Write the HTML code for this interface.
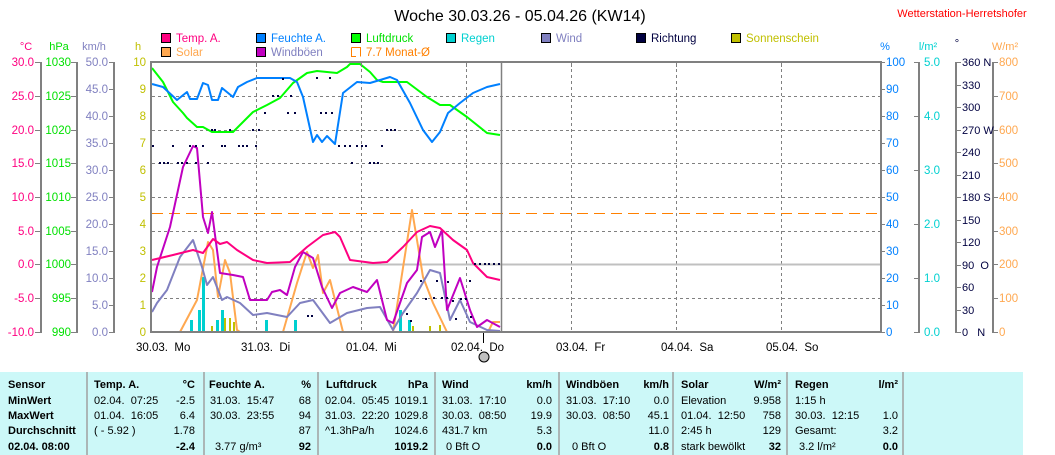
<!DOCTYPE html>
<html><head><meta charset="utf-8"><style>
html,body{margin:0;padding:0;background:#fff;}
svg{display:block;font-family:"Liberation Sans",sans-serif;}
</style></head><body>
<svg width="1055" height="455" viewBox="0 0 1055 455" xmlns="http://www.w3.org/2000/svg">
<rect width="1055" height="455" fill="#fff"/>
<text x="520" y="21" font-size="16" text-anchor="middle" fill="#000">Woche 30.03.26 - 05.04.26 (KW14)</text>
<text x="962" y="17" font-size="11" text-anchor="middle" fill="#ff0000">Wetterstation-Herretshofer</text>

<!-- legend -->
<g font-size="11.5" stroke-width="1">
<rect x="161.5" y="33.5" width="9" height="9" fill="#ff0080" stroke="#000"/><text x="176" y="42" fill="#ff0080">Temp. A.</text>
<rect x="256.5" y="33.5" width="9" height="9" fill="#0080ff" stroke="#000"/><text x="271" y="42" fill="#0080ff">Feuchte A.</text>
<rect x="351.5" y="33.5" width="9" height="9" fill="#00ff00" stroke="#000"/><text x="366" y="42" fill="#00e000">Luftdruck</text>
<rect x="446.5" y="33.5" width="9" height="9" fill="#00d0d0" stroke="#000"/><text x="461" y="42" fill="#00d0d0">Regen</text>
<rect x="541.5" y="33.5" width="9" height="9" fill="#8080c0" stroke="#000"/><text x="556" y="42" fill="#8080c0">Wind</text>
<rect x="636.5" y="33.5" width="9" height="9" fill="#000040" stroke="#000"/><text x="651" y="42" fill="#000040">Richtung</text>
<rect x="731.5" y="33.5" width="9" height="9" fill="#c0c000" stroke="#000"/><text x="746" y="42" fill="#c0c000">Sonnenschein</text>
<rect x="161.5" y="47.5" width="9" height="9" fill="#ffa850" stroke="#000"/><text x="176" y="56" fill="#ffa850">Solar</text>
<rect x="256.5" y="47.5" width="9" height="9" fill="#c000c0" stroke="#000"/><text x="271" y="56" fill="#8080c0">Windböen</text>
<path d="M351.5 47.5 H360.5 V56.5 M351.5 47.5 V56.5 H356" fill="none" stroke="#ff8000"/><text x="366" y="56" fill="#ff8000">7.7 Monat-Ø</text>
</g>

<!-- units -->
<g font-size="11">
<text x="26" y="50" text-anchor="middle" fill="#ff0080">°C</text>
<text x="59" y="50" text-anchor="middle" fill="#00e000">hPa</text>
<text x="94" y="50" text-anchor="middle" fill="#8080c0">km/h</text>
<text x="138" y="50" text-anchor="middle" fill="#c0c000">h</text>
<text x="885" y="50" text-anchor="middle" fill="#0080ff">%</text>
<text x="928" y="50" text-anchor="middle" fill="#00d0d0">l/m²</text>
<text x="957" y="47" text-anchor="middle" fill="#000040">°</text>
<text x="1005" y="50" text-anchor="middle" fill="#ffa850">W/m²</text>
</g>

<!-- axes -->
<g stroke="#808080" stroke-width="2" fill="none">
<line x1="41" y1="62" x2="41" y2="333"/><line x1="77" y1="62" x2="77" y2="333"/><line x1="114" y1="62" x2="114" y2="333"/>
<line x1="919" y1="62" x2="919" y2="333"/><line x1="956" y1="62" x2="956" y2="333"/><line x1="993" y1="62" x2="993" y2="333"/>
</g>
<g stroke="#808080" stroke-width="1">
<path d="M35 62.5h6M35 96.5h6M35 130.5h6M35 163.5h6M35 197.5h6M35 231.5h6M35 264.5h6M35 298.5h6M35 332.5h6"/>
<path d="M71 62.5h6M71 96.5h6M71 130.5h6M71 163.5h6M71 197.5h6M71 231.5h6M71 264.5h6M71 298.5h6M71 332.5h6"/>
<path d="M109 62.5h5M109 89.5h5M109 116.5h5M109 143.5h5M109 170.5h5M109 197.5h5M109 224.5h5M109 251.5h5M109 278.5h5M109 305.5h5M109 332.5h5"/>
<path d="M881 62.5h4M881 89.5h4M881 116.5h4M881 143.5h4M881 170.5h4M881 197.5h4M881 224.5h4M881 251.5h4M881 278.5h4M881 305.5h4M881 332.5h4"/>
<path d="M914 62.5h5M914 116.5h5M914 170.5h5M914 224.5h5M914 278.5h5M914 332.5h5"/>
<path d="M956 62.5h5M956 85.5h5M956 107.5h5M956 130.5h5M956 152.5h5M956 175.5h5M956 197.5h5M956 220.5h5M956 242.5h5M956 265.5h5M956 287.5h5M956 310.5h5M956 332.5h5"/>
<path d="M993 62.5h5M993 96.5h5M993 130.5h5M993 163.5h5M993 197.5h5M993 231.5h5M993 264.5h5M993 298.5h5M993 332.5h5"/>
</g>
<g font-size="11.5" text-anchor="end" fill="#ff0080">
<text x="34" y="66">30.0</text><text x="34" y="100">25.0</text><text x="34" y="134">20.0</text><text x="34" y="167">15.0</text><text x="34" y="201">10.0</text><text x="34" y="235">5.0</text><text x="34" y="268">0.0</text><text x="34" y="302">-5.0</text><text x="34" y="336">-10.0</text>
</g>
<g font-size="11.5" text-anchor="end" fill="#00e000">
<text x="71" y="66">1030</text><text x="71" y="100">1025</text><text x="71" y="134">1020</text><text x="71" y="167">1015</text><text x="71" y="201">1010</text><text x="71" y="235">1005</text><text x="71" y="268">1000</text><text x="71" y="302">995</text><text x="71" y="336">990</text>
</g>
<g font-size="11.5" text-anchor="end" fill="#8080c0">
<text x="108" y="66">50.0</text><text x="108" y="93">45.0</text><text x="108" y="120">40.0</text><text x="108" y="147">35.0</text><text x="108" y="174">30.0</text><text x="108" y="201">25.0</text><text x="108" y="228">20.0</text><text x="108" y="255">15.0</text><text x="108" y="282">10.0</text><text x="108" y="309">5.0</text><text x="108" y="336">0.0</text>
</g>
<g font-size="11.5" text-anchor="end" fill="#c0c000">
<text x="146" y="66">10</text><text x="146" y="93">9</text><text x="146" y="120">8</text><text x="146" y="147">7</text><text x="146" y="174">6</text><text x="146" y="201">5</text><text x="146" y="228">4</text><text x="146" y="255">3</text><text x="146" y="282">2</text><text x="146" y="309">1</text><text x="146" y="336">0</text>
</g>
<g font-size="11.5" fill="#0080ff">
<text x="886" y="66">100</text><text x="886" y="93">90</text><text x="886" y="120">80</text><text x="886" y="147">70</text><text x="886" y="174">60</text><text x="886" y="201">50</text><text x="886" y="228">40</text><text x="886" y="255">30</text><text x="886" y="282">20</text><text x="886" y="309">10</text><text x="886" y="336">0</text>
</g>
<g font-size="11.5" fill="#00d0d0">
<text x="924" y="66">5.0</text><text x="924" y="120">4.0</text><text x="924" y="174">3.0</text><text x="924" y="228">2.0</text><text x="924" y="282">1.0</text><text x="924" y="336">0.0</text>
</g>
<g font-size="11" fill="#000040">
<text x="962" y="66">360 N</text><text x="962" y="89">330</text><text x="962" y="111">300</text><text x="962" y="134">270 W</text><text x="962" y="156">240</text><text x="962" y="179">210</text><text x="962" y="201">180 S</text><text x="962" y="224">150</text><text x="962" y="246">120</text><text x="962" y="269">90&#160;&#160;O</text><text x="962" y="291">60</text><text x="962" y="314">30</text><text x="962" y="336">0&#160;&#160;&#160;N</text>
</g>
<g font-size="11.5" fill="#ffa850">
<text x="999" y="66">800</text><text x="999" y="100">700</text><text x="999" y="134">600</text><text x="999" y="167">500</text><text x="999" y="201">400</text><text x="999" y="235">300</text><text x="999" y="268">200</text><text x="999" y="302">100</text><text x="999" y="336">0</text>
</g>

<!-- grid -->
<g stroke="#808080" stroke-width="1" stroke-dasharray="3,3">
<path d="M152 96.5H880M152 130.5H880M152 163.5H880M152 197.5H880M152 231.5H880M152 298.5H880"/>
<path d="M256.5 63V332M361.5 63V332M466.5 63V332M571.5 63V332M676.5 63V332M781.5 63V332"/>
</g>
<line x1="152" y1="264.5" x2="880" y2="264.5" stroke="#c0c0c0" stroke-width="2"/>
<line x1="152" y1="213.5" x2="880" y2="213.5" stroke="#ff8000" stroke-width="1" stroke-dasharray="11,6"/>
<line x1="501.5" y1="63" x2="501.5" y2="332" stroke="#808080" stroke-width="1.5"/>

<!-- bars -->
<g fill="#00d0d0">
<rect x="190" y="320" width="3" height="12"/><rect x="198" y="310" width="3" height="22"/><rect x="202" y="277" width="3" height="55"/><rect x="216" y="320" width="3" height="12"/><rect x="221" y="310" width="3" height="22"/><rect x="265" y="320" width="3" height="12"/><rect x="294" y="320" width="3" height="12"/><rect x="399" y="310" width="3" height="22"/><rect x="408" y="320" width="3" height="12"/>
</g>
<g fill="#c0c000">
<rect x="211" y="326" width="2" height="6"/><rect x="224" y="318" width="2" height="14"/><rect x="229" y="318" width="2" height="14"/><rect x="233" y="322" width="2" height="10"/><rect x="412" y="326" width="2" height="6"/><rect x="429" y="326" width="2" height="6"/><rect x="439" y="325" width="2" height="7"/>
</g>

<!-- series -->
<g fill="none" stroke-width="2" stroke-linejoin="round">
<polyline stroke="#ffa850" points="152,332 180,332 197,300 208,242 213,250 218,297 225,260 230,273 237,330 240,332 283,332 297,283 307,252 313,268 318,255 323,293 330,280 340,320 343,332 393,332 400,287 412,210 417,240 423,277 433,303 447,332 488,332 493,322 500,322"/>
<polyline stroke="#8080c0" points="152,312 157,303 167,290 180,257 193,240 202,267 207,285 213,277 222,300 227,297 240,303 253,315 267,313 287,317 300,303 313,300 330,323 347,313 367,308 380,307 393,330 403,313 417,293 430,270 440,273 450,320 460,300 470,322 487,330 500,331"/>
<polyline stroke="#c000c0" points="152,292 157,267 170,227 183,167 193,146 197,148 203,217 208,233 212,212 220,273 233,275 243,277 250,300 267,300 272,292 280,290 287,295 295,267 303,252 313,258 322,287 332,308 340,293 353,287 367,292 377,280 387,320 393,323 407,283 417,270 422,237 430,232 435,247 442,230 447,310 460,278 470,310 477,327 487,320 500,327"/>
<polyline stroke="#ff0080" points="152,260 173,255 193,250 203,253 213,239 220,244 227,242 237,250 253,260 267,263 290,262 307,247 323,235 335,232 340,237 350,260 373,263 387,262 403,247 417,232 430,226 440,228 453,240 467,250 473,263 487,277 500,280"/>
<polyline stroke="#00ff00" points="152,68 163,82 173,102 183,113 187,118 197,127 203,127 212,132 233,132 240,125 253,112 267,105 280,98 293,83 307,73 317,71 337,73 347,67 350,64 360,64 370,72 377,80 383,82 407,82 427,97 440,105 450,105 467,117 487,133 500,135"/>
<polyline stroke="#0080ff" points="152,84 163,87 177,100 187,92 190,99 197,99 203,83 208,85 212,100 218,100 222,88 233,97 238,87 247,82 257,78 290,78 297,82 303,97 313,142 317,135 322,142 327,136 335,144 343,93 357,82 370,83 380,80 390,77 397,80 410,103 423,130 432,142 440,132 448,113 460,103 473,93 487,87 500,84"/>
</g>
<!-- direction dots -->
<g fill="#000040">
<path d="M152 145h2v2h-2zM172 145h2v2h-2zM189 145h2v2h-2zM195 145h2v2h-2zM202 145h2v2h-2zM221 145h2v2h-2zM224 145h2v2h-2zM238 145h2v2h-2zM242 145h2v2h-2zM246 145h2v2h-2zM255 145h2v2h-2z"/>
<path d="M159 162h2v2h-2zM163 162h2v2h-2zM167 162h2v2h-2zM177 162h2v2h-2zM181 162h2v2h-2zM186 162h2v2h-2zM195 162h2v2h-2zM207 162h2v2h-2zM351 162h2v2h-2zM369 162h2v2h-2zM373 162h2v2h-2zM377 162h2v2h-2z"/>
<path d="M211 129h2v2h-2zM214 129h2v2h-2zM229 129h2v2h-2zM252 129h2v2h-2zM258 129h2v2h-2zM386 129h2v2h-2zM390 129h2v2h-2zM394 129h2v2h-2z"/>
<path d="M264 112h2v2h-2zM287 112h2v2h-2zM294 112h2v2h-2zM320 112h2v2h-2zM325 112h2v2h-2zM331 112h2v2h-2z"/>
<path d="M272 95h2v2h-2zM277 95h2v2h-2zM290 95h2v2h-2zM338 145h2v2h-2zM344 145h2v2h-2zM349 145h2v2h-2zM356 145h2v2h-2zM361 145h2v2h-2zM365 145h2v2h-2zM381 145h2v2h-2z"/>
<path d="M282 78h2v2h-2zM316 77h2v2h-2zM329 77h2v2h-2z"/>
<path d="M307 315h2v2h-2zM311 315h2v2h-2zM406 313h2v2h-2zM410 320h2v2h-2zM420 280h2v2h-2zM425 298h2v2h-2zM433 297h2v2h-2zM441 297h2v2h-2zM446 297h2v2h-2zM452 300h2v2h-2zM460 298h2v2h-2zM465 298h2v2h-2zM474 263h2v2h-2zM479 263h2v2h-2zM484 263h2v2h-2zM488 263h2v2h-2zM493 263h2v2h-2zM498 263h2v2h-2zM455 318h2v2h-2zM436 280h2v2h-2zM447 281h2v2h-2zM470 316h2v2h-2zM469 280h2v2h-2z"/>
</g>

<!-- plot frame -->
<g stroke="#808080" stroke-width="2" fill="none">
<line x1="151" y1="62" x2="151" y2="333"/>
<line x1="150" y1="62" x2="882" y2="62"/>
<line x1="881" y1="62" x2="881" y2="333"/>
<line x1="150" y1="332" x2="882" y2="332"/>
</g>
<g stroke="#808080" stroke-width="1"><path d="M256.5 63v4M361.5 63v4M466.5 63v4M571.5 63v4M676.5 63v4M781.5 63v4"/></g>

<!-- x labels -->
<g font-size="11.5" fill="#000">
<text x="136" y="351">30.03.&#160;&#160;Mo</text>
<text x="241" y="351">31.03.&#160;&#160;Di</text>
<text x="346" y="351">01.04.&#160;&#160;Mi</text>
<text x="451" y="351">02.04.&#160;&#160;Do</text>
<text x="556" y="351">03.04.&#160;&#160;Fr</text>
<text x="661" y="351">04.04.&#160;&#160;Sa</text>
<text x="766" y="351">05.04.&#160;&#160;So</text>
</g>
<line x1="483.5" y1="333" x2="483.5" y2="343" stroke="#000"/>
<circle cx="484" cy="357" r="5" fill="#c0c0c0" stroke="#000"/>

<!-- table -->
<rect x="0" y="372" width="1023" height="83" fill="#ccf8f8"/>
<g stroke="#a0a0a0" stroke-width="1.5">
<path d="M87 372V455M204 372V455M318 372V455M435 372V455M559 372V455M673 372V455M787 372V455M903 372V455"/>
</g>
<g font-size="11" fill="#000">
<g font-weight="bold">
<text x="8" y="388">Sensor</text><text x="8" y="404">MinWert</text><text x="8" y="419">MaxWert</text><text x="8" y="434">Durchschnitt</text><text x="8" y="450">02.04. 08:00</text>
<text x="94" y="388">Temp. A.</text><text x="195" y="388" text-anchor="end">°C</text>
<text x="209" y="388">Feuchte A.</text><text x="311" y="388" text-anchor="end">%</text>
<text x="326" y="388">Luftdruck</text><text x="428" y="388" text-anchor="end">hPa</text>
<text x="442" y="388">Wind</text><text x="552" y="388" text-anchor="end">km/h</text>
<text x="566" y="388">Windböen</text><text x="669" y="388" text-anchor="end">km/h</text>
<text x="681" y="388">Solar</text><text x="781" y="388" text-anchor="end">W/m²</text>
<text x="795" y="388">Regen</text><text x="898" y="388" text-anchor="end">l/m²</text>
<text x="195" y="450" text-anchor="end">-2.4</text>
<text x="311" y="450" text-anchor="end">92</text>
<text x="428" y="450" text-anchor="end">1019.2</text>
<text x="552" y="450" text-anchor="end">0.0</text>
<text x="669" y="450" text-anchor="end">0.8</text>
<text x="781" y="450" text-anchor="end">32</text>
<text x="898" y="450" text-anchor="end">0.0</text>
</g>
<text x="94" y="404">02.04.&#160;&#160;07:25</text><text x="195" y="404" text-anchor="end">-2.5</text>
<text x="94" y="419">01.04.&#160;&#160;16:05</text><text x="195" y="419" text-anchor="end">6.4</text>
<text x="94" y="434">( - 5.92 )</text><text x="195" y="434" text-anchor="end">1.78</text>
<text x="210" y="404">31.03.&#160;&#160;15:47</text><text x="311" y="404" text-anchor="end">68</text>
<text x="210" y="419">30.03.&#160;&#160;23:55</text><text x="311" y="419" text-anchor="end">94</text>
<text x="311" y="434" text-anchor="end">87</text>
<text x="215" y="450">3.77 g/m³</text>
<text x="325" y="404">02.04.&#160;&#160;05:45</text><text x="428" y="404" text-anchor="end">1019.1</text>
<text x="325" y="419">31.03.&#160;&#160;22:20</text><text x="428" y="419" text-anchor="end">1029.8</text>
<text x="325" y="434">^1.3hPa/h</text><text x="428" y="434" text-anchor="end">1024.6</text>
<text x="442" y="404">31.03.&#160;&#160;17:10</text><text x="552" y="404" text-anchor="end">0.0</text>
<text x="442" y="419">30.03.&#160;&#160;08:50</text><text x="552" y="419" text-anchor="end">19.9</text>
<text x="442" y="434">431.7 km</text><text x="552" y="434" text-anchor="end">5.3</text>
<text x="446" y="450">0 Bft O</text>
<text x="566" y="404">31.03.&#160;&#160;17:10</text><text x="669" y="404" text-anchor="end">0.0</text>
<text x="566" y="419">30.03.&#160;&#160;08:50</text><text x="669" y="419" text-anchor="end">45.1</text>
<text x="669" y="434" text-anchor="end">11.0</text>
<text x="572" y="450">0 Bft O</text>
<text x="681" y="404">Elevation</text><text x="781" y="404" text-anchor="end">9.958</text>
<text x="681" y="419">01.04.&#160;&#160;12:50</text><text x="781" y="419" text-anchor="end">758</text>
<text x="681" y="434">2:45 h</text><text x="781" y="434" text-anchor="end">129</text>
<text x="681" y="450">stark bewölkt</text>
<text x="795" y="404">1:15 h</text>
<text x="795" y="419">30.03.&#160;&#160;12:15</text><text x="898" y="419" text-anchor="end">1.0</text>
<text x="795" y="434">Gesamt:</text><text x="898" y="434" text-anchor="end">3.2</text>
<text x="799" y="450">3.2 l/m²</text>
</g>
</svg>
</body></html>
